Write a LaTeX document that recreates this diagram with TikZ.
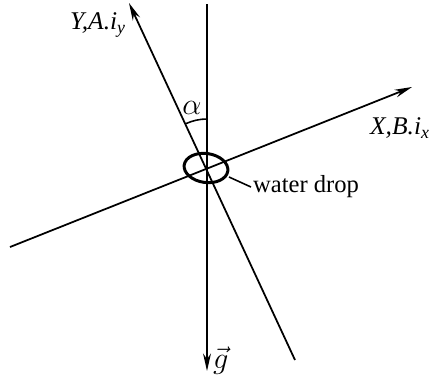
\documentclass[tikz,border=0pt]{standalone}
\usepackage{fontspec}
\setmainfont{Liberation Serif}
\usetikzlibrary{arrows.meta,positioning}

\begin{document}
\begin{tikzpicture}[x=0.02cm, y=-0.02cm, >={Stealth[length=10pt,width=4.5pt]}]
    % Stili
    \tikzstyle{axis}=[->, line width=1pt]
    \tikzstyle{lbl}=[font=\fontsize{14.5}{17}\selectfont\itshape, inner sep=1pt]
    \tikzstyle{txt}=[font=\fontsize{14}{16}\selectfont, inner sep=1pt]
    \tikzstyle{sym}=[font=\fontsize{17}{19}\selectfont, inner sep=1pt]
    \useasboundingbox (0,0) rectangle (432,376);

    % Punti
    \coordinate (O) at (207,169);
    \coordinate (gtop) at (207,4);
    \coordinate (gtip) at (207,371);
    \coordinate (ytip) at (129,3);
    \coordinate (yend) at (295,360);
    \coordinate (xtip) at (412,87);
    \coordinate (xend) at (10,247);

    % Assi
    \draw [axis] (gtop) -- (gtip);
    \draw [axis] (yend) -- (ytip);
    \draw [axis] (xend) -- (xtip);

    % Goccia
    \draw [line width=1.7pt, rotate around={-8:(206,168)}] (206,168) ellipse [x radius=22, y radius=14.5];
    \node (drop) [txt, anchor=west] at (251,187) {water drop};
    \draw [line width=0.9pt] (229,177) -- (drop.west);

    % Angolo
    \draw [line width=0.9pt] (O) ++(-90:50) arc [start angle=-90, end angle=-115, radius=50];
    \node (alpha) [sym] at (192,108) {$\alpha$};

    % Etichette
    \node (ylab) [lbl] at (98,25) {Y,A.i\textsubscript{y}};
    \node (xlab) [lbl, anchor=east] at (432,128) {X,B.i\textsubscript{x}};
    \node (glab) [sym, anchor=west] at (211,361) {$\vec{g}$};
\end{tikzpicture}
\end{document}
